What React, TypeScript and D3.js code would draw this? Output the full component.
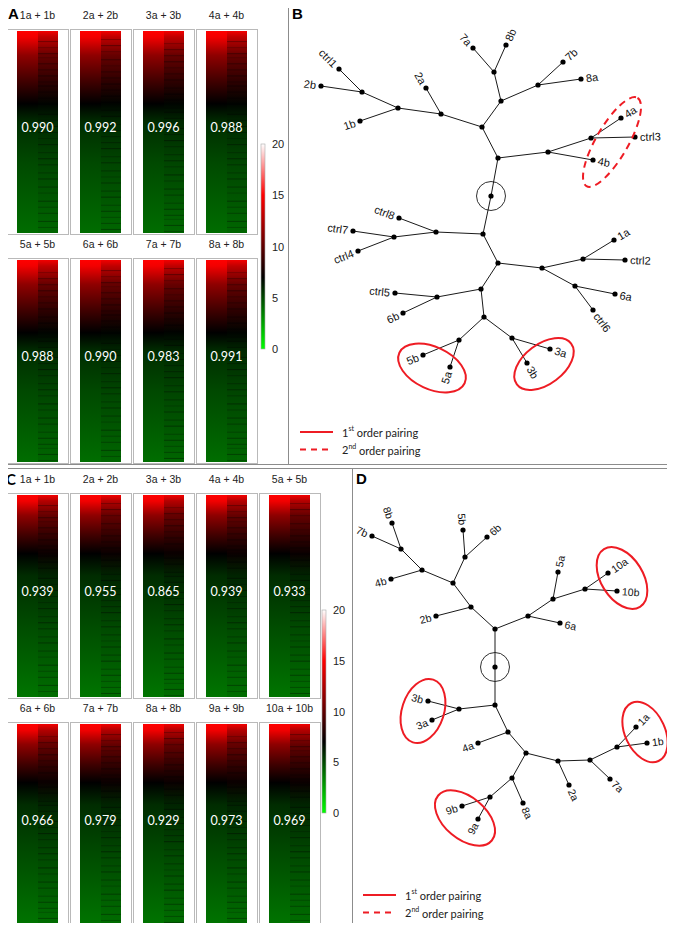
import React from "react";
import * as d3 from "d3";

const W = 675;
const H = 931;

// ---- heatmap panels (A, C) ----
const pairsA = ["1a + 1b", "2a + 2b", "3a + 3b", "4a + 4b", "5a + 5b", "6a + 6b", "7a + 7b", "8a + 8b"];
const corrA = ["0.990", "0.992", "0.996", "0.988", "0.988", "0.990", "0.983", "0.991"];
const pairsC = ["1a + 1b", "2a + 2b", "3a + 3b", "4a + 4b", "5a + 5b", "6a + 6b", "7a + 7b", "8a + 8b", "9a + 9b", "10a + 10b"];
const corrC = ["0.939", "0.955", "0.865", "0.939", "0.933", "0.966", "0.979", "0.929", "0.973", "0.969"];

// sorted log2 expression, read at fractions of the gene list (top -> bottom)
const fracA = [0, 0.03, 0.12, 0.25, 0.36, 0.45, 0.65, 1];
const profileA = [15, 14.6, 11.5, 9, 7, 5.8, 5, 4];
const pairedA = [14.6, 13, 10.2, 8.4, 6.9, 5.9, 5.1, 4.2];
const fracC = [0, 0.03, 0.1, 0.2, 0.29, 0.4, 0.65, 1];
const profileC = [15, 14.6, 11.5, 9, 7, 5.8, 4.9, 3.8];
const pairedC = [14.6, 12.6, 10.2, 8.6, 7.3, 6, 5, 4];

// noisy rows in the paired half: [fraction, darkening]
const streaks1: [number, number][] = [
  [0.05, 0.6], [0.08, 0.4], [0.11, 0.7], [0.13, 0.3], [0.16, 0.6], [0.19, 0.5], [0.22, 0.7], [0.25, 0.4],
  [0.27, 0.6], [0.3, 0.5], [0.33, 0.3], [0.36, 0.5], [0.41, 0.6], [0.44, 0.4], [0.47, 0.7], [0.5, 0.5],
  [0.53, 0.3], [0.56, 0.6], [0.6, 0.4], [0.63, 0.7], [0.66, 0.5], [0.7, 0.4], [0.73, 0.6], [0.77, 0.5],
  [0.8, 0.3], [0.84, 0.6], [0.87, 0.4], [0.9, 0.5], [0.94, 0.6], [0.97, 0.4],
];
const streaks2: [number, number][] = [
  [0.04, 0.5], [0.07, 0.7], [0.1, 0.4], [0.14, 0.6], [0.17, 0.3], [0.2, 0.6], [0.23, 0.5], [0.26, 0.7],
  [0.29, 0.4], [0.32, 0.6], [0.35, 0.4], [0.39, 0.5], [0.42, 0.7], [0.46, 0.4], [0.49, 0.6], [0.52, 0.4],
  [0.55, 0.5], [0.58, 0.7], [0.62, 0.4], [0.65, 0.6], [0.69, 0.5], [0.72, 0.3], [0.75, 0.6], [0.79, 0.5],
  [0.82, 0.7], [0.86, 0.4], [0.89, 0.6], [0.92, 0.4], [0.95, 0.5], [0.98, 0.6],
];
const streaks3: [number, number][] = [
  [0.06, 0.4], [0.09, 0.6], [0.12, 0.5], [0.15, 0.7], [0.18, 0.4], [0.21, 0.5], [0.24, 0.6], [0.28, 0.4],
  [0.31, 0.7], [0.34, 0.5], [0.38, 0.4], [0.4, 0.6], [0.43, 0.5], [0.48, 0.6], [0.51, 0.4], [0.54, 0.7],
  [0.57, 0.4], [0.61, 0.5], [0.64, 0.6], [0.67, 0.4], [0.71, 0.7], [0.74, 0.4], [0.78, 0.6], [0.81, 0.5],
  [0.85, 0.4], [0.88, 0.6], [0.91, 0.5], [0.93, 0.3], [0.96, 0.6], [0.99, 0.4],
];
const streakSets = [streaks1, streaks2, streaks3];

const colorTicks = [0, 5, 10, 15, 20];
const colorDomain = [0, 7, 15, 20];
const colorRange = ["#00ff00", "#000000", "#ff0000", "#ffffff"];

// ---- trees (B, D): [id, parent, dx, dy] relative to the root ----
const treeB: [string, string, number, number][] = [
  ["r", "", 0, 0], ["u1", "r", 7, -38], ["u2", "u1", -9, -69], ["u3", "u2", 10, -95], ["u4", "u3", 3, -124],
  ["7a", "u4", -18, -148], ["8b", "u4", 15, -151], ["u5", "u3", 47, -111], ["7b", "u5", 72, -134],
  ["8a", "u5", 90, -117], ["u6", "u2", -50, -82], ["2a", "u6", -65, -108], ["u7", "u6", -93, -88],
  ["u8", "u7", -129, -104], ["ctrl1", "u8", -152, -127], ["2b", "u8", -170, -110], ["1b", "u7", -131, -75],
  ["u9", "u1", 57, -44], ["u10", "u9", 100, -58], ["4a", "u10", 130, -78], ["ctrl3", "u10", 144, -59],
  ["4b", "u9", 102, -36], ["l1", "r", -8, 38], ["l2", "l1", -55, 36], ["ctrl8", "l2", -92, 22],
  ["l3", "l2", -97, 41], ["ctrl7", "l3", -138, 35], ["ctrl4", "l3", -133, 55], ["l4", "l1", 7, 67],
  ["l5", "l4", 51, 72], ["l6", "l5", 92, 63], ["1a", "l6", 123, 44], ["ctrl2", "l6", 134, 64],
  ["l7", "l5", 84, 90], ["6a", "l7", 124, 98], ["ctrl6", "l7", 102, 114], ["l8", "l4", -10, 93],
  ["l9", "l8", -54, 101], ["ctrl5", "l9", -96, 97], ["6b", "l9", -88, 117], ["l10", "l8", -7, 121],
  ["l11", "l10", -32, 144], ["5b", "l11", -68, 159], ["5a", "l11", -41, 171], ["l12", "l10", 21, 142],
  ["3a", "l12", 59, 153], ["3b", "l12", 36, 167],
];
const treeD: [string, string, number, number][] = [
  ["r", "", 0, 0], ["a1", "r", 0, -38], ["a2", "a1", -24, -60], ["2b", "a2", -59, -51], ["a3", "a2", -42, -84],
  ["a4", "a3", -73, -97], ["4b", "a4", -104, -88], ["a5", "a4", -94, -118], ["8b", "a5", -103, -144],
  ["7b", "a5", -123, -131], ["a6", "a3", -30, -110], ["5b", "a6", -32, -137], ["6b", "a6", -8, -130],
  ["a7", "a1", 33, -51], ["6a", "a7", 65, -44], ["a8", "a7", 58, -68], ["5a", "a8", 63, -95],
  ["a9", "a8", 90, -78], ["10a", "a9", 113, -94], ["10b", "a9", 122, -76], ["b1", "r", 0, 38],
  ["b2", "b1", -36, 42], ["3b", "b2", -67, 34], ["3a", "b2", -63, 53], ["b3", "b1", 13, 65],
  ["4a", "b3", -17, 76], ["b4", "b3", 31, 86], ["b5", "b4", 63, 94], ["2a", "b5", 74, 118],
  ["b6", "b5", 95, 93], ["7a", "b6", 115, 112], ["b7", "b6", 122, 80], ["1a", "b7", 141, 60],
  ["1b", "b7", 152, 76], ["b8", "b4", 17, 111], ["8a", "b8", 28, 136], ["b9", "b8", -5, 130],
  ["9b", "b9", -33, 139], ["9a", "b9", -17, 152],
];
// pairing ellipses: [cx, cy, rx, ry, angle, order]
const ringsB: number[][] = [[-59, 172, 36, 21, 25, 1], [53, 168, 34, 20, -37, 1], [121, -54, 51, 16, -60, 2]];
const ringsD: number[][] = [[127, -89, 34, 21, 58, 1], [-72, 44, 33, 21, -72, 1], [150, 65, 32, 20, 65, 1], [-30, 151, 35, 21, 40, 1]];

const color = d3.scaleLinear<string>().domain(colorDomain).range(colorRange).interpolate(d3.interpolateRgb);

const SANS = "'Liberation Sans', Arial, sans-serif";
const CAL = "Lato, 'Open Sans', sans-serif";
const RED = "#ee1c24";

function Gradient({ id, frac, vals }: { id: string; frac: number[]; vals: number[] }) {
  return (
    <linearGradient id={id} x1="0" y1="0" x2="0" y2="1">
      {frac.map((f, i) => (
        <stop key={i} offset={f} stopColor={color(vals[i])} />
      ))}
    </linearGradient>
  );
}

function HeatPanel({ pairs, corr, rowTops, nCols, gid, frac, paired }: any) {
  const boxW = 61, boxH = 205;
  const xCol = d3.scaleLinear().domain([0, 1]).range([7, 70]);
  const pairedScale = d3.scaleLinear().domain(frac).range(paired);
  return (
    <g>
      {pairs.map((p: string, i: number) => {
        const c = i % nCols;
        const r = Math.floor(i / nCols);
        const x = xCol(c);
        const y = rowTops[r];
        const fx = x + 10, fy = y + 2, fh = boxH - 3;
        const ys = d3.scaleLinear().domain([0, 1]).range([fy, fy + fh]);
        const set = streakSets[(c + r * 2) % 3];
        return (
          <g key={i}>
            <text x={x + boxW / 2} y={y - 14} fontSize={10.5} fontFamily={SANS} fill="#222" textAnchor="middle" dominantBaseline="central">{p}</text>
            <rect x={x + 0.5} y={y + 0.5} width={boxW} height={boxH} fill="#fff" stroke="#b9b9b9" />
            <rect x={fx} y={fy} width={41} height={fh} fill={`url(#pair${gid})`} />
            <rect x={fx} y={fy} width={21} height={fh} fill={`url(#prof${gid})`} />
            {set.map(([f, k], j) => (
              <rect key={j} x={fx + 21} y={ys(f)} width={20} height={1}
                fill={d3.interpolateRgb(color(pairedScale(f)), "#000")(k)} fillOpacity={0.55} />
            ))}
            <text x={x + boxW / 2} y={y + 98} fontSize={12.5} fontFamily={CAL} fill="#fff" textAnchor="middle" dominantBaseline="central">{corr[i]}</text>
          </g>
        );
      })}
    </g>
  );
}

function ColorBar({ x, y0, y1 }: { x: number; y0: number; y1: number }) {
  const s = d3.scaleLinear().domain([0, 20]).range([y1, y0]);
  return (
    <g>
      <rect x={x} y={y0} width={4} height={y1 - y0} fill="url(#cbar)" stroke="#aaa" strokeWidth={0.6} />
      {colorTicks.map((t) => (
        <text key={t} x={x + 11} y={s(t)} fontSize={11} fontFamily={SANS} fill="#222" dominantBaseline="central">{t}</text>
      ))}
    </g>
  );
}

function Tree({ data, rings, rootX, rootY, fs }: any) {
  const sx = d3.scaleLinear().domain([-200, 200]).range([rootX - 200, rootX + 200]);
  const sy = d3.scaleLinear().domain([-200, 200]).range([rootY - 200, rootY + 200]);
  const byId = new Map(data.map((d: any) => [d[0], d]));
  const parents = new Set(data.map((d: any) => d[1]));
  const links = data.filter((d: any) => d[1]).map((d: any) => [byId.get(d[1]), d]);
  return (
    <g>
      {links.map(([p, c]: any, i: number) => (
        <line key={i} x1={sx(p[2])} y1={sy(p[3])} x2={sx(c[2])} y2={sy(c[3])} stroke="#1a1a1a" strokeWidth={1} />
      ))}
      <circle cx={sx(0)} cy={sy(0)} r={14.5} fill="none" stroke="#1a1a1a" strokeWidth={0.9} />
      {data.map((d: any, i: number) => (
        <circle key={i} cx={sx(d[2])} cy={sy(d[3])} r={2.6} fill="#000" />
      ))}
      {data.filter((d: any) => d[1] && !parents.has(d[0])).map((d: any, i: number) => {
        const p: any = byId.get(d[1]);
        const ang = (Math.atan2(d[3] - p[3], d[2] - p[2]) * 180) / Math.PI;
        const flip = Math.abs(ang) > 90;
        const rot = flip ? (ang > 0 ? ang - 180 : ang + 180) : ang;
        return (
          <text key={i} transform={`translate(${sx(d[2])},${sy(d[3])}) rotate(${rot})`} x={flip ? -5 : 5} y={0}
            textAnchor={flip ? "end" : "start"} dominantBaseline="central" fontSize={fs} fontFamily={SANS} fill="#111">
            {d[0]}
          </text>
        );
      })}
      {rings.map((e: number[], i: number) => (
        <ellipse key={i} transform={`translate(${sx(e[0])},${sy(e[1])}) rotate(${e[4]})`} rx={e[2]} ry={e[3]}
          fill="none" stroke={RED} strokeWidth={2} strokeDasharray={e[5] === 2 ? "7,5" : undefined} />
      ))}
    </g>
  );
}

function Legend({ x, y }: { x: number; y: number }) {
  const rows = [["1", "st", undefined], ["2", "nd", "6,5"]];
  return (
    <g>
      {rows.map(([n, sup, dash], i) => (
        <g key={i}>
          <line x1={x} x2={x + 33} y1={y + i * 17.5} y2={y + i * 17.5} stroke={RED} strokeWidth={2} strokeDasharray={dash} />
          <text x={x + 42} y={y + i * 17.5} fontSize={11} fontFamily={CAL} fill="#222" dominantBaseline="central">
            {n}<tspan fontSize={7} dy={-4}>{sup}</tspan><tspan dy={4}> order pairing</tspan>
          </text>
        </g>
      ))}
    </g>
  );
}

export default function App() {
  return (
    <svg width={W} height={H} style={{ display: "block", margin: "-8px", background: "#fff" }}>
      <defs>
        <Gradient id="profA" frac={fracA} vals={profileA} />
        <Gradient id="pairA" frac={fracA} vals={pairedA} />
        <Gradient id="profC" frac={fracC} vals={profileC} />
        <Gradient id="pairC" frac={fracC} vals={pairedC} />
        <linearGradient id="cbar" x1="0" y1="1" x2="0" y2="0">
          {colorDomain.map((v) => (
            <stop key={v} offset={v / 20} stopColor={color(v)} />
          ))}
        </linearGradient>
      </defs>
      <rect width={W} height={H} fill="#fff" />
      {/* frames */}
      <rect x={2.5} y={3.5} width={670} height={461} fill="none" stroke="#8c8c8c" />
      <line x1={288.5} x2={288.5} y1={3.5} y2={464.5} stroke="#8c8c8c" />
      <rect x={2.5} y={468.5} width={670} height={459} fill="none" stroke="#8c8c8c" />
      <line x1={352.5} x2={352.5} y1={468.5} y2={927.5} stroke="#8c8c8c" />

      <HeatPanel pairs={pairsA} corr={corrA} rowTops={[29, 258]} nCols={4} gid="A" frac={fracA} paired={pairedA} />
      <ColorBar x={261} y0={144} y1={349} />
      <HeatPanel pairs={pairsC} corr={corrC} rowTops={[493, 722]} nCols={5} gid="C" frac={fracC} paired={pairedC} />
      <ColorBar x={322} y0={610} y1={813} />

      <Tree data={treeB} rings={ringsB} rootX={491} rootY={196} fs={11} />
      <Legend x={300} y={432} />
      <Tree data={treeD} rings={ringsD} rootX={495} rootY={667} fs={10.5} />
      <Legend x={363} y={895} />

      <text x={8} y={13.5} fontSize={15} fontWeight="bold" fontFamily={SANS} dominantBaseline="central">A</text>
      <text x={292} y={13} fontSize={15} fontWeight="bold" fontFamily={SANS} dominantBaseline="central">B</text>
      <text x={6} y={478.5} fontSize={15} fontWeight="bold" fontFamily={CAL} dominantBaseline="central">C</text>
      <text x={356} y={478} fontSize={15} fontWeight="bold" fontFamily={SANS} dominantBaseline="central">D</text>
    </svg>
  );
}
